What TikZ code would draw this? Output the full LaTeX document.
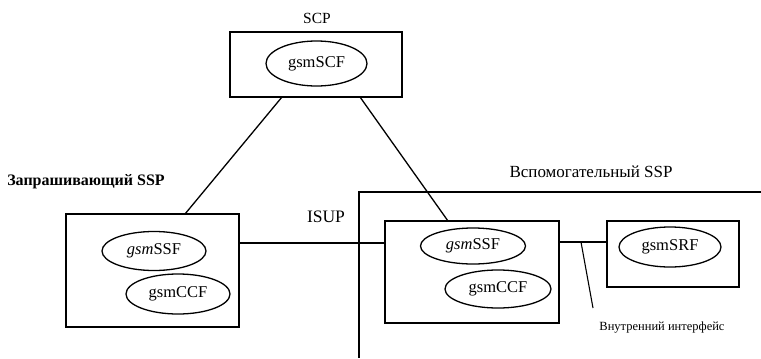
\documentclass[tikz,border=0pt]{standalone}
\usepackage{fontspec}
\setmainfont{Liberation Serif}
\usetikzlibrary{shapes.geometric}
\tikzset{
  box/.style={draw, line width=1.4pt, rectangle, inner sep=0pt},
  func/.style={draw, line width=1.3pt, ellipse, inner sep=0pt, font=\fontsize{16.5}{18}\selectfont},
  conn/.style={line width=1.3pt},
  lbl/.style={inner sep=0pt, font=\fontsize{15.5}{17}\selectfont},
}
\begin{document}
\begin{tikzpicture}[x=1pt,y=-1pt]
\useasboundingbox (0,0) rectangle (761,359);
% boxes
\node[box, minimum width=172pt, minimum height=65pt] (scp) at (316,64.5) {};
\node[box, minimum width=173pt, minimum height=113pt] (lssp) at (152.5,270.5) {};
\node[box, minimum width=174pt, minimum height=102pt] (rssp) at (472,272) {};
\node[box, minimum width=132pt, minimum height=66pt] (srf) at (673,254) {};
% functions
\node[func, minimum width=101pt, minimum height=45pt] (scf) at (316.5,63.5) {gsmSCF};
\node[func, minimum width=104pt, minimum height=39pt] (lssf) at (154,251) {\textit{gsm}SSF};
\node[func, minimum width=104pt, minimum height=40pt] (lccf) at (178,294) {gsmCCF};
\node[func, minimum width=105pt, minimum height=36pt] (rssf) at (473,246) {\textit{gsm}SSF};
\node[func, minimum width=106pt, minimum height=38pt] (rccf) at (498,289) {gsmCCF};
\node[func, minimum width=102pt, minimum height=40pt] (srff) at (670,247) {gsmSRF};
% labels
\node[lbl] (scpl) at (317,18) {SCP};
\node[lbl, font=\fontsize{16}{17}\selectfont\bfseries] (zl) at (86,182) {Запрашивающий SSP};
\node[lbl, font=\fontsize{17}{18}\selectfont] (vl) at (591,172) {Вспомогательный SSP};
\node[lbl, font=\fontsize{17.5}{18}\selectfont] (isup) at (326,217) {ISUP};
\node[lbl, font=\fontsize{12.5}{14}\selectfont] (intl) at (662,328) {Внутренний интерфейс};
% auxiliary coordinates
\coordinate (s1) at (282,97);
\coordinate (s2) at (185,214);
\coordinate (s3) at (360,97);
\coordinate (s4) at (448,221);
\coordinate (iy) at (0,243);
\coordinate (jy) at (0,242);
\coordinate (o1) at (761,192);
\coordinate (o2) at (359,192);
\coordinate (o3) at (359,358);
\coordinate (p1) at (581,242);
\coordinate (p2) at (593,308);
% connectors
\draw[conn] (s1) -- (s2);
\draw[conn] (s3) -- (s4);
\draw[conn] (lssp.east |- iy) -- (rssp.west |- iy);
\draw[conn] (rssp.east |- jy) -- (srf.west |- jy);
\draw[conn] (o1) -- (o2) -- (o3);
\draw[line width=1.1pt] (p1) -- (p2);
\end{tikzpicture}
\end{document}
